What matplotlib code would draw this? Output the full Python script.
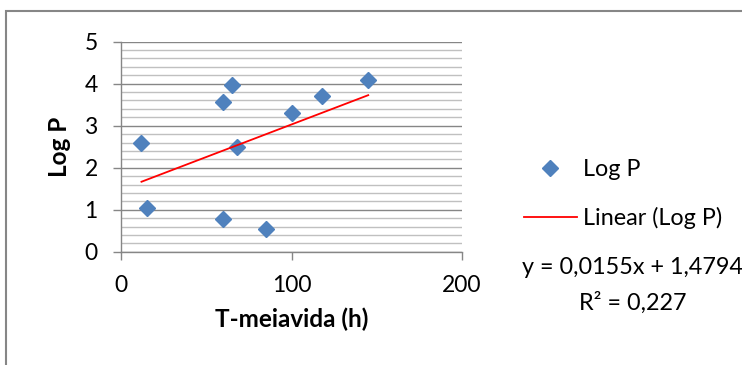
import matplotlib
matplotlib.use('Agg')
import matplotlib.pyplot as plt
from matplotlib.ticker import MultipleLocator
from matplotlib.lines import Line2D
from matplotlib.patches import Rectangle
import numpy as np

# ---- data ----
t_half = [12, 15, 60, 65, 68, 60, 85, 100, 118, 145]
log_p = [2.6, 1.05, 3.57, 3.97, 2.5, 0.79, 0.55, 3.3, 3.7, 4.1]
slope = 0.0155
intercept = 1.4794
r2 = 0.227
x_ticks = [0, 100, 200]
y_ticks = [0, 1, 2, 3, 4, 5]
series_label = "Log P"
trend_label = "Linear (Log P)"
eq_text = "y = 0,0155x + 1,4794"
r2_text = "R² = 0,227"
x_title = "T-meiavida (h)"
y_title = "Log P"

FONT = ['Lato', 'DejaVu Sans']
plt.rcParams['font.family'] = FONT

W, H = 742, 365
fig = plt.figure(figsize=(W / 100, H / 100), dpi=100)
ax = fig.add_axes([121 / W, 1 - 251.7 / H, (462 - 121) / W, (251.7 - 41.7) / H])

GRID_MAJ = '#868686'
GRID_MIN = '#c0c0c0'
BLUE = '#4F81BD'
FS_TEXT = 16.8

ax.set_xlim(0, 200)
ax.set_ylim(0, 5)
ax.set_xticks(x_ticks)
ax.set_yticks(y_ticks)
ax.yaxis.set_minor_locator(MultipleLocator(0.2))
ax.set_axisbelow(True)
ax.grid(which='major', axis='y', color=GRID_MAJ, lw=1.0)
ax.grid(which='minor', axis='y', color=GRID_MIN, lw=1.0)
ax.grid(axis='x', visible=False)
ax.tick_params(which='minor', length=0)
ax.tick_params(which='major', direction='out', length=5.8, width=1.0, color=GRID_MAJ,
               labelsize=16.5, labelcolor='black')
ax.tick_params(axis='x', pad=11)
ax.tick_params(axis='y', pad=11)
for s in ['top', 'right']:
    ax.spines[s].set_visible(False)
for s in ['left', 'bottom']:
    ax.spines[s].set_color(GRID_MAJ)
    ax.spines[s].set_linewidth(1.0)

ax.plot(t_half, log_p, linestyle='none', marker='D', ms=8.6, color=BLUE, mec=BLUE,
        clip_on=False, zorder=3)
xt = np.array([min(t_half), max(t_half)])
ax.plot(xt, slope * xt + intercept, color='#FF0000', lw=1.3, zorder=4)

ax.set_xlabel(x_title, fontsize=17.5, fontweight='bold', labelpad=8)
ax.set_ylabel(y_title, fontsize=17.5, fontweight='bold', labelpad=10)

handles = [Line2D([], [], linestyle='none', marker='D', ms=8.6, color=BLUE),
           Line2D([], [], color='#FF0000', lw=1.3)]
leg = fig.legend(handles, [series_label, trend_label], loc='center left',
                 bbox_to_anchor=(524 / W, 1 - 194 / H), frameon=False, fontsize=FS_TEXT,
                 handlelength=2.27, handletextpad=0.25, labelspacing=1.13, borderpad=0,
                 borderaxespad=0)

fig.text(632.5 / W, 1 - 268 / H, eq_text, ha='center', va='center', fontsize=FS_TEXT)
fig.text(632.5 / W, 1 - 303 / H, r2_text, ha='center', va='center', fontsize=FS_TEXT)

fig.patches.append(Rectangle((6 / W, -0.2), 1.5, 1 - 11 / H + 0.2, transform=fig.transFigure,
                             fill=False, ec='#868686', lw=1.5))

fig.savefig('out.png', dpi=100)
